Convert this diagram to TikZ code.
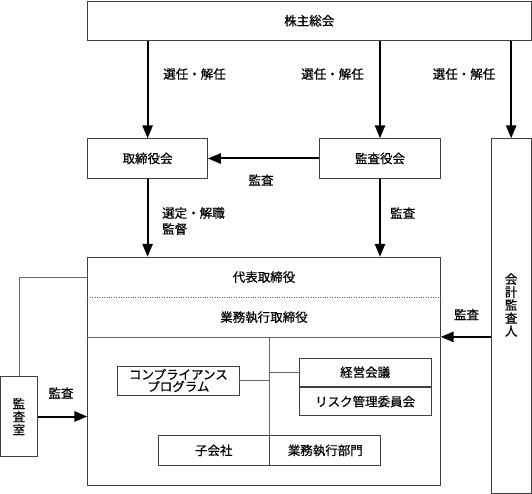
\documentclass[tikz,border=0pt]{standalone}
\usepackage{fontspec}
\newfontfamily\cjk[FakeBold=0.6]{Noto Sans CJK JP}
\usetikzlibrary{arrows}
\newcommand{\jp}{\cjk\fontsize{12.5}{13}\selectfont}

\begin{document}
\begin{tikzpicture}[x=1pt,y=-1pt]
 \tikzstyle{arrow} = [->,line width=2pt,>=triangle 45];
 \tikzstyle{box}   = [rectangle,draw=black!75,line width=0.8pt,inner sep=0pt,font=\jp];
 \tikzstyle{row}   = [rectangle,inner sep=0pt,font=\jp];
 \tikzstyle{lbl}   = [inner sep=0pt,font=\jp];
 \tikzstyle{link}  = [draw=black!60,line width=0.8pt];

 \useasboundingbox (0,0) rectangle (532,494);

 %% shareholders, boards, auditor
 \node[box,minimum width=443.5pt,minimum height=39.5pt] (gm) at (309.25,20.75) {株主総会};
 \node[box,minimum width=120.2pt,minimum height=40pt] (board) at (147.6,158.5) {取締役会};
 \node[box,minimum width=120.8pt,minimum height=40pt] (kansa) at (380,158.5) {監査役会};
 \node[box,minimum width=39.7pt,minimum height=354.5pt,
       label={[lbl,align=center,yshift=10.75pt]center:会\\計\\監\\査\\人}] (eaud) at (511.15,315.75) {};

 %% executive block
 \node[box,minimum width=353pt,minimum height=228.5pt] (exec) at (264,371.25) {};
 \node[row,minimum width=353pt,minimum height=40.5pt,anchor=north] (rep) at (exec.north) {代表取締役};
 \node[row,minimum width=353pt,minimum height=39pt,anchor=north] (exd) at (rep.south) {業務執行取締役};
 \draw[dotted,black!60] (rep.south west) -- (rep.south east);
 \draw[link] (exd.south west) -- (exd.south east);

 \node[box,minimum width=121.3pt,minimum height=29pt,align=center,
       font=\cjk\fontsize{12.5}{12}\selectfont] (comp) at (178.35,380.5) {コンプライアンス\\プログラム};
 \node[box,minimum width=131.7pt,minimum height=28.5pt] (mgmt) at (365.15,372.25) {経営会議};
 \node[box,minimum width=131.7pt,minimum height=28.5pt,anchor=north] (risk) at (mgmt.south) {リスク管理委員会};
 \node[box,minimum width=110.5pt,minimum height=30.2pt] (sub) at (213.75,450.4) {子会社};
 \node[box,minimum width=111pt,minimum height=30.2pt,anchor=west] (dept) at (sub.east) {業務執行部門};

 \draw[link] (exd.south -| sub.north east) -- (sub.north east);
 \draw[link] (comp.east) -- (comp.east -| sub.north east);
 \draw[link] (mgmt.west -| sub.north east) -- (mgmt.west);

 %% internal audit
 \node[box,minimum width=36.8pt,minimum height=80.4pt,align=center] (iaud) at (18.9,416.5) {監\\査\\室};
 \draw[link] (iaud.north) |- (rep.west);

 %% arrows
 \draw[arrow] (gm.south -| board) -- (board.north);
 \draw[arrow] (gm.south -| kansa) -- (kansa.north);
 \draw[arrow] (gm.south -| eaud) -- (eaud.north);
 \draw[arrow] (kansa.west) -- (board.east);
 \draw[arrow] (board.south) -- (board.south |- exec.north);
 \draw[arrow] (kansa.south) -- (kansa.south |- exec.north);
 \draw[arrow] (eaud.west |- exd.south) -- (exec.east |- exd.south);
 \draw[arrow] (iaud.east) -- (iaud.east -| exec.west);

 %% labels
 \node[lbl] (sel1) at (194.5,74) {選任・解任};
 \node[lbl] (sel2) at (332.5,74) {選任・解任};
 \node[lbl] (sel3) at (464,74) {選任・解任};
 \node[lbl] (aud1) at (261,180) {監査};
 \node[lbl,align=left,anchor=west,font=\cjk\fontsize{12.5}{16}\selectfont] (sel4) at (162,221) {選定・解職\\監督};
 \node[lbl,anchor=west] (aud2) at (390,213) {監査};
 \node[lbl] (aud3) at (466.6,314.5) {監査};
 \node[lbl] (aud4) at (61,393) {監査};
\end{tikzpicture}
\end{document}
